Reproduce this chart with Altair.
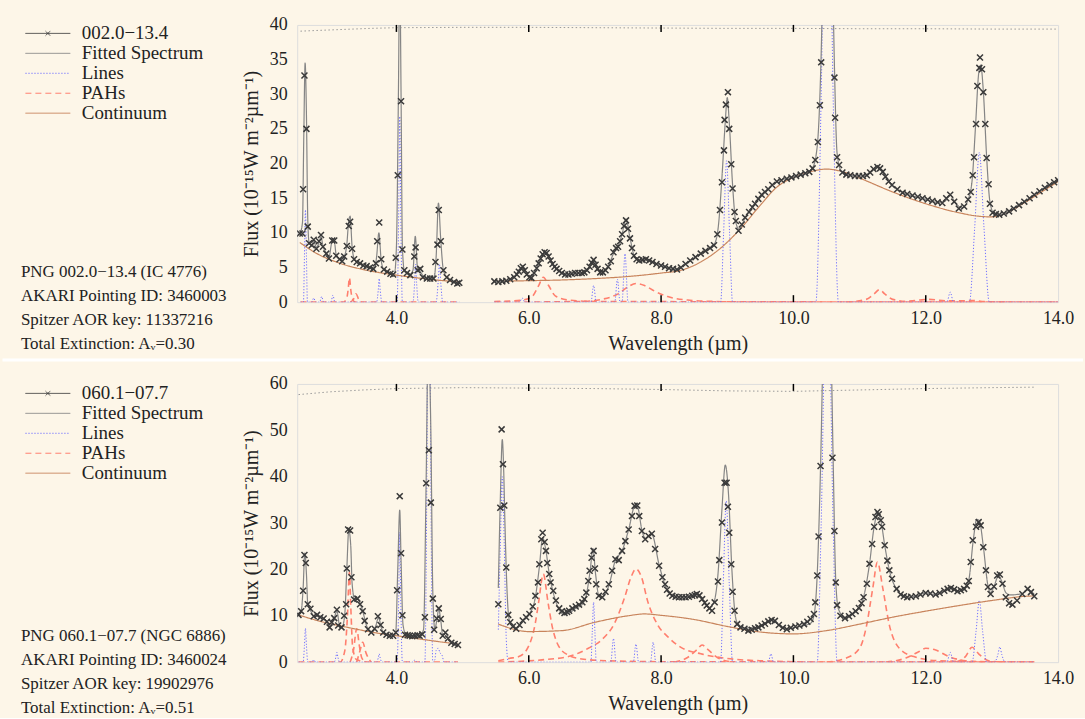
import altair as alt
import pandas as pd

FONT = "Liberation Serif"
BG = "#fdf6e8"
TXT = "#222222"

OTHER = ["Fitted Spectrum", "Lines", "PAHs", "Continuum"]
SERIES_COLORS = ["#3c3c3c", "#858585", "#6f6fff", "#ff7f6e", "#c8845c"]
SERIES_DASHES = [[1, 0], [1, 0], [1.2, 1.8], [6, 4], [1, 0]]
LEGEND_SHAPES = ["M-3,0H3M-0.3,-0.3L0.3,0.3M-0.3,0.3L0.3,-0.3",
                 "M-3,0H3", "M-3,0H3", "M-3,0H3", "M-3,0H3"]
X_TICKS = [4.0, 6.0, 8.0, 10.0, 12.0, 14.0]
INNER_TICKS = [4.0, 6.0, 8.0, 10.0, 12.0]

# ---------------- top panel : PN G002.0-13.4 ----------------
TOP_NAME = "002.0\u221213.4"
TOP_NOTE = "PNG 002.0\u221213.4 (IC 4776)\nAKARI Pointing ID: 3460003\nSpitzer AOR key: 11337216\nTotal Extinction: A\u1d65=0.30"

top_obs_akari = [(2.54,9.9),(2.58,9.9),(2.59,16.3),(2.61,32.7),(2.64,25.0),(2.66,10.9),(2.68,8.5),(2.72,8.2),(2.75,9.0),(2.79,7.7),(2.83,8.8),(2.86,9.7),(2.89,8.0),(2.94,7.0),(2.98,6.3),(3.03,8.9),(3.06,8.9),(3.09,6.7),(3.14,6.2),(3.18,5.9),(3.21,6.6),(3.25,8.1),(3.28,11.0),(3.30,11.6),(3.33,7.7),(3.36,6.2),(3.40,5.8),(3.45,5.6),(3.50,5.3),(3.55,5.2),(3.60,5.0),(3.65,4.8),(3.69,5.6),(3.71,8.8),(3.74,11.5),(3.77,6.2),(3.81,4.7),(3.86,4.4),(3.91,4.1),(3.95,4.0),(3.99,6.4),(4.02,18.3),(4.07,29.0),(4.09,7.6),(4.12,4.6),(4.16,4.2),(4.21,3.9),(4.27,6.6),(4.29,7.9),(4.32,4.6),(4.36,4.8),(4.40,3.6),(4.46,3.4),(4.51,3.4),(4.56,3.4),(4.59,5.8),(4.62,8.3),(4.64,13.3),(4.67,8.8),(4.71,4.6),(4.76,3.6),(4.81,3.2),(4.87,2.9),(4.92,2.7),(4.95,2.8)]
top_obs_spitzer = [(5.48,3.0),(5.54,2.9),(5.60,3.0),(5.66,3.1),(5.72,3.3),(5.78,3.6),(5.82,4.0),(5.85,4.4),(5.88,4.9),(5.91,5.1),(5.94,4.6),(5.97,4.0),(6.01,3.6),(6.04,3.5),(6.08,4.2),(6.12,4.9),(6.15,5.6),(6.18,6.3),(6.21,6.9),(6.24,7.2),(6.27,7.1),(6.30,6.6),(6.33,6.0),(6.36,5.5),(6.39,5.1),(6.42,4.8),(6.46,4.5),(6.50,4.2),(6.55,4.0),(6.60,4.0),(6.65,4.1),(6.70,4.2),(6.75,4.2),(6.80,4.2),(6.84,4.3),(6.88,4.6),(6.92,5.1),(6.95,5.7),(6.98,6.1),(7.01,5.4),(7.04,4.8),(7.08,4.3),(7.12,4.3),(7.16,4.6),(7.20,5.1),(7.24,5.9),(7.28,7.2),(7.32,7.8),(7.35,8.0),(7.38,8.8),(7.41,9.8),(7.44,11.0),(7.47,11.8),(7.50,10.6),(7.53,9.2),(7.56,7.8),(7.59,6.7),(7.63,6.2),(7.67,6.0),(7.72,6.1),(7.77,6.2),(7.82,6.0),(7.87,5.8),(7.93,5.5),(8.00,5.3),(8.06,5.1),(8.12,4.9),(8.18,4.8),(8.24,4.7),(8.30,5.0),(8.37,5.5),(8.44,6.0),(8.52,6.5),(8.60,7.0),(8.67,7.4),(8.74,7.8),(8.80,8.2),(8.85,9.8),(8.89,13.3),(8.92,17.3),(8.95,21.9),(8.96,26.3),(8.98,28.5),(9.01,30.3),(9.03,25.0),(9.06,19.9),(9.08,16.4),(9.11,13.0),(9.13,11.7),(9.17,10.3),(9.22,11.2),(9.27,12.2),(9.33,13.0),(9.38,13.7),(9.42,14.2),(9.47,14.9),(9.52,15.5),(9.57,15.9),(9.62,16.3),(9.68,16.9),(9.75,17.4),(9.82,17.6),(9.90,17.8),(9.97,18.0),(10.04,18.2),(10.11,18.4),(10.18,18.6),(10.24,18.8),(10.29,19.3),(10.33,20.5),(10.37,23.1),(10.40,28.4),(10.42,34.6),(10.62,32.4),(10.63,26.6),(10.66,20.9),(10.69,19.8),(10.74,18.7),(10.80,18.4),(10.86,18.3),(10.93,18.2),(10.99,18.2),(11.05,18.2),(11.11,18.3),(11.16,18.7),(11.21,19.2),(11.27,19.5),(11.31,19.3),(11.35,18.8),(11.39,18.1),(11.44,17.4),(11.49,16.9),(11.57,16.3),(11.65,15.8),(11.72,15.6),(11.80,15.4),(11.88,15.2),(11.95,15.0),(12.03,14.8),(12.10,14.6),(12.18,14.4),(12.25,14.3),(12.31,15.0),(12.37,15.5),(12.43,14.5),(12.50,13.5),(12.58,13.8),(12.64,14.8),(12.68,15.9),(12.71,18.3),(12.73,20.9),(12.76,25.7),(12.78,31.2),(12.81,33.8),(12.82,35.3),(12.85,33.6),(12.87,30.3),(12.90,25.7),(12.92,20.8),(12.95,17.0),(12.97,14.2),(13.01,12.9),(13.06,12.7),(13.11,12.6),(13.18,12.8),(13.26,13.1),(13.33,13.5),(13.41,14.0),(13.49,14.5),(13.57,15.0),(13.64,15.5),(13.72,16.0),(13.80,16.5),(13.87,16.9),(13.94,17.3),(14.00,17.6)]
top_fit_akari = [(2.54,9.8),(2.58,11.5),(2.60,24.0),(2.62,34.5),(2.64,27.0),(2.66,12.0),(2.68,8.6),(2.72,8.2),(2.75,8.9),(2.79,7.9),(2.83,8.6),(2.86,9.4),(2.89,8.1),(2.94,7.1),(2.98,6.5),(3.03,8.8),(3.06,8.8),(3.09,6.8),(3.14,6.2),(3.18,6.0),(3.21,6.5),(3.25,8.3),(3.28,11.8),(3.30,12.4),(3.33,8.0),(3.36,6.3),(3.40,5.8),(3.50,5.3),(3.60,5.0),(3.67,4.9),(3.70,6.5),(3.735,10.0),(3.77,6.0),(3.81,4.7),(3.90,4.2),(3.97,4.1),(4.00,8.0),(4.03,30.0),(4.05,48.0),(4.07,30.0),(4.09,8.0),(4.12,4.5),(4.20,4.0),(4.25,4.6),(4.285,9.5),(4.32,4.8),(4.36,4.4),(4.42,3.6),(4.50,3.4),(4.57,3.6),(4.60,6.5),(4.635,14.3),(4.67,9.0),(4.71,4.6),(4.76,3.6),(4.83,3.1),(4.95,2.8)]
top_fit_spitzer = [(5.48,3.0),(5.60,3.0),(5.72,3.3),(5.80,3.9),(5.88,4.9),(5.91,5.0),(5.96,4.2),(6.03,3.6),(6.10,4.5),(6.17,6.1),(6.24,7.1),(6.30,6.6),(6.38,5.3),(6.46,4.5),(6.55,4.0),(6.70,4.1),(6.84,4.3),(6.92,5.1),(6.98,6.0),(7.04,4.8),(7.12,4.4),(7.20,5.1),(7.28,7.0),(7.35,8.0),(7.41,9.8),(7.47,12.0),(7.53,9.3),(7.59,6.8),(7.67,6.0),(7.77,6.2),(7.87,5.8),(8.00,5.3),(8.12,4.9),(8.24,4.7),(8.37,5.5),(8.52,6.5),(8.67,7.4),(8.80,8.3),(8.86,10.5),(8.92,18.0),(8.97,26.0),(9.00,29.5),(9.03,26.0),(9.08,17.0),(9.13,11.5),(9.18,10.5),(9.27,12.2),(9.42,14.2),(9.57,15.9),(9.75,17.4),(9.97,18.0),(10.18,18.6),(10.29,19.4),(10.36,22.5),(10.42,36.0),(10.47,60.0),(10.52,75.0),(10.57,60.0),(10.62,34.0),(10.66,21.5),(10.72,19.0),(10.86,18.3),(11.05,18.2),(11.16,18.7),(11.27,19.5),(11.35,18.8),(11.49,16.9),(11.72,15.6),(11.95,15.0),(12.18,14.4),(12.28,14.5),(12.37,15.4),(12.45,14.3),(12.55,13.6),(12.64,14.8),(12.70,17.5),(12.75,25.0),(12.80,33.0),(12.83,34.2),(12.87,30.5),(12.92,21.0),(12.97,14.5),(13.03,12.8),(13.11,12.6),(13.26,13.1),(13.41,14.0),(13.57,15.0),(13.72,16.0),(13.87,16.9),(14.00,17.6)]
top_lines_akari = [(2.55,0),(2.595,0),(2.61,6.6),(2.625,13.3),(2.64,6.6),(2.655,0),(2.72,0),(2.75,0.6),(2.78,0),(2.84,0),(2.87,0.8),(2.90,0),(3.01,0),(3.04,1.0),(3.07,0),(3.70,0),(3.725,1.7),(3.74,3.4),(3.755,1.7),(3.78,0),(4.01,0),(4.035,13.4),(4.05,26.8),(4.065,13.4),(4.09,0),(4.25,0),(4.275,2.8),(4.29,5.5),(4.305,2.8),(4.33,0),(4.60,0),(4.63,2.8),(4.65,5.5),(4.67,2.8),(4.70,0),(4.95,0)]
top_lines_spitzer = [(5.48,0),(5.86,0),(5.90,0.6),(5.94,0),(6.94,0),(6.98,2.4),(7.02,0),(7.30,0),(7.34,3.3),(7.38,0),(7.41,0),(7.455,7.0),(7.50,0),(8.90,0),(8.945,10.0),(8.99,20.4),(9.035,10.0),(9.08,0),(10.34,0),(10.42,30.0),(10.51,85.0),(10.60,30.0),(10.68,0),(12.32,0),(12.37,1.45),(12.42,0),(12.66,0),(12.74,10.8),(12.81,21.6),(12.88,10.8),(12.96,0),(14.00,0)]
top_pahs = [
    [(2.55,0),(3.20,0),(3.25,0.6),(3.27,1.8),(3.29,3.5),(3.31,1.8),(3.33,0.6),(3.38,0),(4.95,0)],
    [(3.30,0),(3.35,0.4),(3.39,1.2),(3.43,0.4),(3.48,0)],
    [(5.48,0.1),(5.90,0.3),(6.05,0.8),(6.15,2.4),(6.22,3.6),(6.30,2.4),(6.40,0.9),(6.60,0.3),(7.00,0.1),(14.00,0)],
    [(5.48,0),(6.80,0.1),(7.10,0.4),(7.35,1.2),(7.50,2.2),(7.62,2.7),(7.75,2.4),(7.90,1.6),(8.10,0.8),(8.40,0.3),(8.80,0.1),(9.50,0),(14.00,0)],
    [(10.80,0),(11.10,0.4),(11.22,1.2),(11.30,1.8),(11.38,1.2),(11.50,0.4),(11.80,0)],
    [(11.60,0),(11.90,0.3),(12.05,0.4),(12.30,0.2),(12.60,0.2),(12.70,0.25),(12.85,0.1),(13.20,0)],
]
top_cont_akari = [(2.54,8.6),(2.80,7.0),(3.15,5.6),(3.50,4.7),(4.00,3.9),(4.50,3.3),(4.95,2.9)]
top_cont_spitzer = [(5.48,3.0),(6.00,3.1),(6.50,3.2),(7.00,3.4),(7.50,3.7),(8.00,4.2),(8.30,4.6),(8.60,5.8),(8.90,7.8),(9.20,10.6),(9.50,14.0),(9.75,16.6),(10.00,18.0),(10.25,18.8),(10.50,19.2),(10.75,18.8),(11.00,17.9),(11.50,15.9),(12.00,14.2),(12.50,12.9),(12.80,12.4),(13.00,12.3),(13.20,12.8),(13.50,14.4),(13.80,16.2),(14.00,17.4)]
top_ext = [(2.55,39.1),(2.80,39.2),(3.20,39.35),(3.60,39.5),(4.00,39.6),(5.00,39.65),(6.00,39.65),(7.00,39.6),(8.00,39.55),(9.00,39.5),(10.00,39.5),(11.00,39.45),(12.00,39.45),(13.00,39.4),(14.00,39.4)]

# ---------------- bottom panel : PN G060.1-07.7 ----------------
BOT_NAME = "060.1\u221207.7"
BOT_NOTE = "PNG 060.1\u221207.7 (NGC 6886)\nAKARI Pointing ID: 3460024\nSpitzer AOR key: 19902976\nTotal Extinction: A\u1d65=0.51"

bot_obs_akari = [(2.52,10.2),(2.56,11.0),(2.59,15.4),(2.61,23.1),(2.63,21.4),(2.66,12.5),(2.70,11.5),(2.75,9.9),(2.80,10.2),(2.85,9.7),(2.90,9.4),(2.95,8.7),(2.99,7.5),(3.02,8.6),(3.06,9.5),(3.10,11.3),(3.12,7.9),(3.17,7.5),(3.21,10.0),(3.24,12.5),(3.25,20.2),(3.27,28.6),(3.30,28.4),(3.32,18.3),(3.36,13.5),(3.41,13.7),(3.45,12.5),(3.49,11.0),(3.52,8.9),(3.57,7.1),(3.62,6.4),(3.67,7.2),(3.72,9.9),(3.76,8.0),(3.80,6.4),(3.85,5.9),(3.90,5.7),(3.95,5.7),(3.99,6.4),(4.01,15.5),(4.05,35.8),(4.07,23.5),(4.09,10.1),(4.13,5.9),(4.17,5.8),(4.20,5.7),(4.24,5.6),(4.28,5.7),(4.32,5.8),(4.35,5.7),(4.39,6.0),(4.43,9.7),(4.45,38.6),(4.49,45.7),(4.52,34.4),(4.55,13.7),(4.57,7.0),(4.61,9.4),(4.64,11.6),(4.67,9.3),(4.70,5.7),(4.74,6.4),(4.78,5.1),(4.83,4.2),(4.88,3.9),(4.93,3.7)]
bot_obs_spitzer = [(5.54,12.5),(5.57,33.3),(5.59,50.2),(5.61,42.7),(5.63,33.8),(5.66,20.4),(5.69,10.2),(5.72,8.6),(5.76,7.7),(5.81,7.2),(5.86,8.0),(5.91,9.0),(5.96,9.7),(6.01,10.4),(6.06,12.0),(6.10,14.3),(6.14,17.2),(6.16,21.1),(6.19,26.5),(6.21,27.9),(6.24,25.9),(6.26,24.0),(6.28,21.4),(6.31,19.0),(6.33,17.2),(6.37,15.4),(6.41,13.3),(6.46,11.6),(6.50,11.0),(6.54,10.6),(6.58,10.8),(6.61,11.1),(6.66,11.6),(6.71,12.0),(6.76,12.4),(6.81,12.9),(6.84,13.6),(6.87,15.0),(6.90,17.5),(6.92,19.7),(6.95,22.5),(6.98,24.0),(7.00,20.2),(7.02,16.8),(7.06,14.3),(7.11,14.0),(7.16,15.2),(7.21,16.8),(7.26,19.7),(7.31,22.2),(7.36,22.0),(7.41,24.0),(7.46,26.1),(7.51,28.6),(7.56,31.5),(7.60,33.7),(7.64,33.8),(7.67,31.5),(7.71,28.3),(7.76,26.5),(7.81,27.2),(7.86,27.7),(7.91,24.4),(7.97,20.8),(8.02,18.3),(8.06,16.8),(8.09,15.6),(8.13,14.8),(8.17,14.3),(8.22,14.1),(8.27,14.0),(8.32,14.0),(8.37,14.0),(8.42,14.1),(8.47,14.3),(8.51,14.5),(8.54,14.7),(8.58,14.4),(8.62,13.6),(8.66,12.8),(8.69,12.2),(8.73,11.6),(8.77,11.1),(8.81,12.9),(8.86,17.4),(8.88,22.0),(8.92,30.1),(8.96,38.7),(8.99,38.7),(9.01,33.5),(9.03,27.9),(9.06,21.1),(9.08,15.2),(9.11,11.1),(9.15,8.2),(9.20,7.5),(9.26,7.2),(9.32,6.8),(9.37,7.0),(9.42,7.3),(9.47,7.5),(9.52,7.9),(9.57,8.3),(9.62,8.8),(9.67,9.1),(9.72,8.9),(9.78,8.0),(9.84,7.4),(9.90,7.1),(9.96,7.4),(10.03,7.7),(10.09,7.9),(10.16,8.2),(10.21,8.7),(10.26,9.3),(10.31,10.4),(10.33,12.9),(10.36,18.7),(10.38,27.1),(10.41,42.3),(10.59,44.1),(10.62,28.3),(10.64,17.2),(10.66,12.3),(10.71,10.0),(10.78,9.5),(10.84,9.9),(10.89,10.4),(10.94,11.0),(10.99,11.7),(11.03,12.7),(11.06,14.0),(11.11,16.9),(11.15,21.2),(11.19,25.5),(11.22,29.2),(11.24,31.3),(11.27,32.4),(11.29,31.9),(11.32,30.6),(11.34,29.2),(11.38,25.2),(11.42,21.9),(11.45,19.8),(11.49,18.0),(11.56,15.8),(11.62,14.6),(11.67,14.2),(11.72,14.0),(11.78,14.1),(11.85,14.2),(11.92,14.6),(12.00,14.9),(12.07,14.8),(12.15,14.6),(12.21,14.9),(12.28,15.4),(12.33,15.8),(12.38,16.0),(12.43,15.7),(12.48,15.3),(12.53,15.5),(12.58,15.8),(12.62,16.5),(12.65,17.5),(12.68,21.6),(12.71,26.3),(12.76,29.2),(12.80,30.2),(12.83,29.5),(12.87,24.8),(12.91,19.8),(12.94,16.2),(12.98,14.7),(13.03,16.3),(13.08,18.7),(13.12,18.9),(13.16,16.9),(13.21,14.0),(13.26,12.7),(13.31,12.4),(13.38,13.3),(13.46,14.7),(13.54,15.8),(13.59,15.1),(13.64,14.2)]
bot_fit_akari = [(2.52,10.2),(2.56,11.0),(2.59,16.0),(2.615,23.5),(2.64,19.0),(2.66,12.5),(2.70,11.2),(2.75,10.0),(2.85,9.7),(2.95,8.7),(2.99,7.7),(3.05,9.0),(3.10,11.0),(3.14,8.0),(3.18,7.6),(3.22,10.5),(3.25,20.0),(3.28,28.5),(3.31,25.0),(3.33,17.0),(3.37,13.5),(3.41,13.6),(3.49,11.0),(3.55,7.8),(3.62,6.4),(3.68,7.5),(3.73,9.6),(3.77,7.5),(3.82,6.1),(3.95,5.7),(3.99,6.5),(4.02,20.0),(4.05,32.8),(4.07,22.0),(4.10,8.0),(4.15,5.8),(4.35,5.7),(4.41,7.0),(4.45,40.0),(4.48,70.0),(4.52,50.0),(4.55,15.0),(4.58,7.2),(4.61,9.0),(4.64,11.5),(4.67,9.0),(4.70,5.9),(4.74,6.2),(4.80,4.8),(4.93,3.7)]
bot_fit_spitzer = [(5.54,16.0),(5.57,35.0),(5.60,48.0),(5.62,42.0),(5.64,30.0),(5.67,16.0),(5.70,9.5),(5.75,7.8),(5.81,7.3),(5.91,8.8),(6.01,10.4),(6.10,14.0),(6.16,20.5),(6.21,26.8),(6.26,24.0),(6.31,19.0),(6.37,15.0),(6.46,11.3),(6.54,10.2),(6.61,10.6),(6.71,11.6),(6.81,12.5),(6.87,14.5),(6.93,20.0),(6.97,24.5),(7.01,19.0),(7.06,14.3),(7.11,14.0),(7.21,16.5),(7.31,22.0),(7.41,24.0),(7.51,28.6),(7.60,33.5),(7.64,33.6),(7.71,28.5),(7.76,26.7),(7.86,27.5),(7.97,21.0),(8.06,16.6),(8.17,14.4),(8.32,14.0),(8.47,14.3),(8.54,14.6),(8.62,13.6),(8.73,11.8),(8.80,13.0),(8.86,19.0),(8.92,33.0),(8.97,42.5),(9.02,36.0),(9.07,20.0),(9.11,11.5),(9.15,8.5),(9.26,7.4),(9.42,7.4),(9.57,8.4),(9.67,9.0),(9.78,8.0),(9.90,7.2),(10.03,7.5),(10.16,7.9),(10.26,8.4),(10.31,10.0),(10.36,19.0),(10.41,42.0),(10.46,75.0),(10.51,90.0),(10.56,75.0),(10.60,44.0),(10.64,17.5),(10.68,11.5),(10.78,9.6),(10.89,10.4),(10.99,11.7),(11.06,14.0),(11.15,21.2),(11.22,29.2),(11.27,32.0),(11.32,30.6),(11.38,25.2),(11.45,19.8),(11.56,15.8),(11.72,14.0),(11.85,14.2),(12.00,14.9),(12.15,14.6),(12.28,15.3),(12.38,16.0),(12.48,15.3),(12.58,15.7),(12.65,17.7),(12.72,26.5),(12.77,30.8),(12.81,30.5),(12.87,25.0),(12.94,16.5),(12.98,15.0),(13.03,16.3),(13.10,18.6),(13.16,17.0),(13.21,15.0),(13.28,14.5),(13.38,14.6),(13.46,14.8),(13.54,15.6),(13.64,14.6)]
bot_lines_akari = [(2.52,0),(2.59,0),(2.61,3.6),(2.625,7.3),(2.64,3.6),(2.66,0),(2.72,0),(2.75,0.5),(2.78,0),(3.06,0),(3.085,1.1),(3.10,2.1),(3.115,1.1),(3.14,0),(3.70,0),(3.725,0.9),(3.74,1.8),(3.755,0.9),(3.78,0),(4.01,0),(4.035,14.0),(4.05,28.0),(4.065,14.0),(4.09,0),(4.25,0),(4.28,0.5),(4.31,0),(4.43,0),(4.46,40.0),(4.49,120.0),(4.52,40.0),(4.55,0),(4.58,0.5),(4.60,2.5),(4.63,3.0),(4.66,2.0),(4.69,1.5),(4.72,0),(4.93,0)]
bot_lines_spitzer = [(5.54,7.0),(5.57,25.0),(5.60,40.0),(5.63,25.0),(5.66,5.0),(5.69,0),(5.90,0),(6.94,0),(6.96,6.5),(6.98,12.9),(7.00,6.5),(7.02,0),(7.24,0),(7.28,5.1),(7.32,0),(7.58,0),(7.62,3.9),(7.66,0),(7.84,0),(7.88,4.3),(7.92,0),(8.90,0),(8.94,17.0),(8.985,34.8),(9.03,17.0),(9.08,0),(9.62,0),(9.66,1.8),(9.70,0),(10.36,0),(10.42,30.0),(10.51,95.0),(10.60,30.0),(10.66,0),(12.32,0),(12.37,2.1),(12.42,0),(12.70,0),(12.76,6.6),(12.81,13.3),(12.86,6.6),(12.92,0),(13.04,0),(13.09,1.6),(13.12,3.3),(13.15,1.6),(13.20,0),(13.64,0)]
bot_pahs = [
    [(2.52,0),(3.15,0),(3.22,2.5),(3.26,10.0),(3.29,19.4),(3.31,12.0),(3.34,3.0),(3.40,0.5),(3.60,0),(4.93,0)],
    [(3.30,0),(3.35,2.5),(3.40,7.2),(3.44,3.5),(3.48,0.8),(3.55,0)],
    [(3.40,0),(3.45,2.5),(3.49,4.3),(3.54,2.0),(3.62,0)],
    [(5.54,0.3),(5.70,0.8),(5.85,1.2),(6.00,3.5),(6.10,8.5),(6.15,13.0),(6.22,19.0),(6.29,13.0),(6.35,8.0),(6.45,3.5),(6.60,1.5),(6.80,0.7),(7.20,0.3),(8.00,0.1),(13.64,0)],
    [(5.54,0),(6.20,0.5),(6.60,1.2),(6.90,3.0),(7.10,4.8),(7.30,8.5),(7.45,14.0),(7.55,18.5),(7.62,20.1),(7.70,18.5),(7.80,13.0),(7.95,8.0),(8.10,5.5),(8.30,3.2),(8.60,1.8),(9.00,0.8),(9.50,0.3),(10.50,0),(13.64,0)],
    [(8.20,0),(8.40,1.0),(8.55,2.8),(8.62,3.7),(8.70,2.8),(8.85,1.0),(9.10,0)],
    [(10.50,0),(10.80,0.9),(11.00,3.0),(11.10,7.5),(11.20,16.0),(11.27,21.6),(11.35,16.0),(11.45,8.0),(11.60,3.0),(11.82,1.2),(12.20,0.3),(13.64,0)],
    [(11.40,0),(11.70,0.9),(11.90,2.3),(12.00,3.0),(12.15,2.6),(12.35,1.2),(12.60,0.3),(12.90,0)],
    [(12.45,0),(12.60,1.2),(12.70,3.2),(12.80,1.8),(12.95,0.3),(13.20,0)],
]
bot_cont_akari = [(2.52,10.2),(2.80,9.0),(3.10,8.0),(3.40,7.1),(3.70,6.3),(4.00,5.7),(4.30,5.1),(4.60,4.5),(4.93,3.9)]
bot_cont_spitzer = [(5.54,8.2),(6.00,6.6),(6.50,6.8),(7.00,8.6),(7.50,10.0),(7.75,10.4),(8.00,10.1),(8.50,9.2),(9.00,7.7),(9.50,6.5),(10.00,6.1),(10.50,6.8),(11.00,8.2),(11.50,9.7),(12.00,11.0),(12.50,12.2),(13.00,13.3),(13.50,14.2),(13.64,14.3)]
bot_ext = [(2.52,57.7),(3.00,58.3),(3.50,58.7),(4.00,59.0),(5.00,59.2),(6.00,59.1),(7.00,59.0),(8.00,58.8),(9.00,58.5),(10.00,58.4),(11.00,58.7),(12.00,59.0),(13.00,59.2),(13.65,59.3)]


def frame(pairs, series, comp):
    return pd.DataFrame({"lam": [p[0] for p in pairs], "flux": [p[1] for p in pairs],
                         "series": series, "comp": comp})


def panel(name, obs, fits, lines, pahs, conts, ext, ymax, ystep, note, note_y,
          height, legend_y, separator=False):
    domain = [name] + OTHER
    leg = alt.Legend(title=None, orient="none", legendX=-259.5, legendY=legend_y,
                     symbolSize=225, symbolStrokeWidth=1, labelFont=FONT,
                     labelFontSize=19, labelColor=TXT, labelOffset=24.5,
                     rowPadding=-1, padding=0)
    color = alt.Color("series:N", scale=alt.Scale(domain=domain, range=SERIES_COLORS), legend=leg)
    dash = alt.StrokeDash("series:N", scale=alt.Scale(domain=domain, range=SERIES_DASHES), legend=leg)
    shape = alt.Shape("series:N", scale=alt.Scale(domain=domain, range=LEGEND_SHAPES), legend=leg)
    x = alt.X("lam:Q", scale=alt.Scale(domain=[2.5, 14.0], nice=False, zero=False),
              axis=alt.Axis(values=X_TICKS, format=".1f", ticks=False, domain=False,
                            grid=False, labelFlush=False, labelFont=FONT,
                            labelFontSize=18, labelColor=TXT, labelPadding=7,
                            title="Wavelength (\u00b5m)", titleFont=FONT,
                            titleFontSize=20, titleFontWeight="normal",
                            titleColor=TXT, titlePadding=6))
    y = alt.Y("flux:Q", scale=alt.Scale(domain=[0, ymax], nice=False),
              axis=alt.Axis(values=list(range(0, ymax + 1, ystep)), ticks=False,
                            domain=False, grid=False, labelFlush=False,
                            labelFont=FONT, labelFontSize=18, labelColor=TXT,
                            labelPadding=10,
                            title="Flux (10\u207b\u00b9\u2075W m\u207b\u00b2\u00b5m\u207b\u00b9)",
                            titleFont=FONT, titleFontSize=20,
                            titleFontWeight="normal", titleColor=TXT,
                            titlePadding=8))

    ext_df = frame(ext, "ext", "e")
    pah_df = pd.concat([frame(p, "PAHs", f"p{i}") for i, p in enumerate(pahs)])
    line_df = pd.concat([frame(p, "Lines", f"l{i}") for i, p in enumerate(lines)])
    cont_df = pd.concat([frame(p, "Continuum", f"c{i}") for i, p in enumerate(conts)])
    fit_df = pd.concat([frame(p, "Fitted Spectrum", f"f{i}") for i, p in enumerate(fits)])
    obs_df = pd.concat([frame(p, name, f"o{i}") for i, p in enumerate(obs)])
    legend_df = pd.DataFrame({"series": domain, "lam": [None] * 5, "flux": [None] * 5})
    tick_df = pd.DataFrame({"lam": INNER_TICKS})
    note_df = pd.DataFrame({"t": [note]})

    layers = [
        alt.Chart(ext_df).mark_line(color="#9a9a9a", strokeDash=[1.5, 2.5], strokeWidth=1, clip=True)
        .encode(x=x, y=y),
        alt.Chart(pah_df).mark_line(strokeWidth=1.6, interpolate="monotone", clip=True)
        .encode(x=x, y=y, color=color, strokeDash=dash, detail="comp:N"),
        alt.Chart(line_df).mark_line(strokeWidth=1, interpolate="monotone", clip=True)
        .encode(x=x, y=y, color=color, strokeDash=dash, detail="comp:N"),
        alt.Chart(cont_df).mark_line(strokeWidth=1.2, interpolate="monotone", clip=True)
        .encode(x=x, y=y, color=color, strokeDash=dash, detail="comp:N"),
        alt.Chart(fit_df).mark_line(strokeWidth=1.2, interpolate="monotone", clip=True)
        .encode(x=x, y=y, color=color, strokeDash=dash, detail="comp:N"),
        alt.Chart(obs_df).mark_point(shape="M-1,-1L1,1M-1,1L1,-1", size=36, strokeWidth=1.5,
                                     opacity=1, filled=False, clip=True)
        .encode(x=x, y=y, color=alt.value("#3a3a3a")),
        alt.Chart(legend_df).mark_point(opacity=1, filled=False, clip=True)
        .encode(x=x, y=y, color=color, shape=shape),
        alt.Chart(tick_df).mark_rule(color="black", strokeWidth=1.5)
        .encode(x=x, y=alt.value(height), y2=alt.value(height - 7)),
        alt.Chart(tick_df).mark_rule(color="black", strokeWidth=1.5)
        .encode(x=x, y=alt.value(0), y2=alt.value(7)),
        alt.Chart(note_df).mark_text(align="left", baseline="alphabetic", font=FONT,
                                     fontSize=17, lineHeight=24, lineBreak="\n", color=TXT)
        .encode(text="t:N", x=alt.value(-277), y=alt.value(note_y)),
    ]
    if separator:
        sep_df = pd.DataFrame({"a": [0]})
        layers.append(alt.Chart(sep_df).mark_rule(color="white", strokeWidth=3)
                      .encode(x=alt.value(-295.5), x2=alt.value(788), y=alt.value(-24)))
    return alt.layer(*layers).properties(width=763, height=height)


top = panel(TOP_NAME, [top_obs_akari, top_obs_spitzer], [top_fit_akari, top_fit_spitzer],
            [top_lines_akari, top_lines_spitzer], top_pahs, [top_cont_akari, top_cont_spitzer],
            top_ext, 40, 5, TOP_NOTE, 253, 278, -1)
bottom = panel(BOT_NAME, [bot_obs_akari, bot_obs_spitzer], [bot_fit_akari, bot_fit_spitzer],
               [bot_lines_akari, bot_lines_spitzer], bot_pahs, [bot_cont_akari, bot_cont_spitzer],
               bot_ext, 60, 10, BOT_NOTE, 258, 279, 0, separator=True)

chart = (
    alt.vconcat(top, bottom, spacing=4)
    .resolve_scale(color="independent", strokeDash="independent", shape="independent",
                   x="independent", y="independent")
    .properties(padding={"left": 0, "top": 14, "right": 0, "bottom": 0}, background=BG)
    .configure_view(stroke="black", strokeWidth=2)
    .configure(font=FONT)
)

chart.save("out.html", embed_options={"renderer": "svg", "actions": False})
